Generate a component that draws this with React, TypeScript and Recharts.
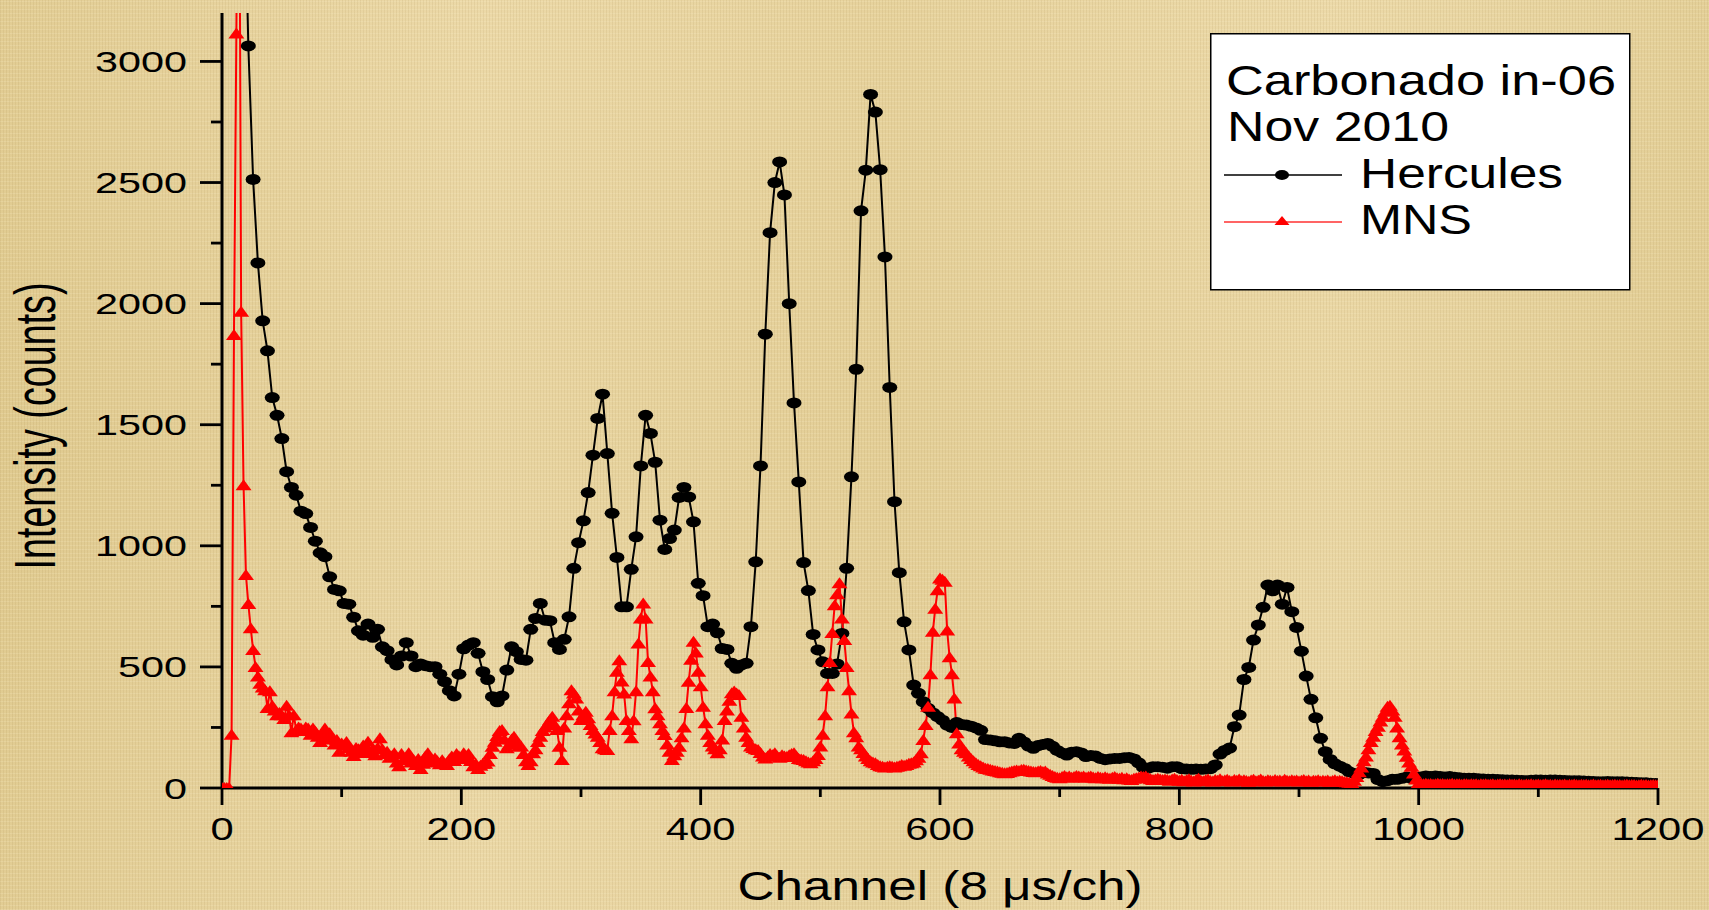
import { LineChart, Line, XAxis, YAxis } from "recharts";

const W = 1709;
const H = 910;
const FONT = '"Liberation Sans", Arial, Helvetica, sans-serif';

// Hercules spectrum: one point every 4 channels, first point at channel 14
const herculesStart = 14;
const herculesStep = 4;
const herculesCounts = [
  5500, 3950, 3064, 2513, 2168, 1929, 1805, 1612, 1539, 1443,
  1306, 1241, 1209, 1143, 1133, 1076, 1019, 971, 955, 872,
  820, 814, 762, 759, 705, 649, 631, 677, 622, 655,
  583, 567, 530, 508, 545, 600, 545, 501, 512, 505,
  501, 501, 470, 439, 402, 380, 470, 575, 590, 600,
  556, 480, 448, 377, 356, 380, 487, 583, 563, 531,
  528, 655, 700, 762, 693, 691, 600, 572, 614, 707,
  907, 1013, 1103, 1220, 1374, 1526, 1626, 1381, 1134, 952,
  748, 748, 903, 1037, 1330, 1539, 1464, 1345, 1106, 985,
  1030, 1065, 1200, 1241, 1202, 1099, 845, 794, 666, 677,
  641, 576, 572, 515, 494, 508, 515, 666, 934, 1330,
  1874, 2293, 2500, 2585, 2449, 2000, 1590, 1264, 931, 815,
  634, 570, 521, 473, 473, 512, 638, 907, 1285, 1729,
  2383, 2551, 2864, 2791, 2553, 2193, 1654, 1182, 889, 686,
  570, 425, 391, 356, 329, 310, 295, 280, 260, 250,
  270, 262, 260, 255, 248, 238, 200, 198, 195, 191,
  191, 186, 184, 205, 190, 173, 164, 175, 180, 184,
  172, 155, 145, 136, 148, 150, 145, 130, 134, 132,
  122, 117, 120, 122, 122, 125, 126, 120, 104, 85,
  82, 88, 88, 86, 82, 88, 88, 80, 78, 77,
  78, 77, 78, 80, 95, 140, 155, 165, 253, 301,
  448, 498, 611, 673, 746, 838, 814, 838, 759, 828,
  728, 663, 565, 462, 366, 290, 205, 150, 118, 100,
  90, 81, 67, 60, 55, 65, 62, 60, 35, 26,
  30, 36, 36, 40, 45, 40, 42, 45, 50, 48,
  50, 47, 45, 47, 44, 42, 40, 40, 40, 38,
  37, 36, 36, 35, 34, 33, 33, 32, 31, 30,
  32, 33, 33, 32, 33, 33, 32, 31, 30, 30,
  30, 29, 28, 27, 26, 26, 27, 26, 26, 26,
  25, 24, 23, 22, 22, 20, 19,
];

// MNS spectrum: one point every 2 channels, first point at channel 0
const mnsStart = 0;
const mnsStep = 2;
const mnsCounts = [
  0, 0, 0, 0, 220, 1870, 3115, 4500, 1966, 1250,
  880, 760, 660, 570, 500, 460, 430, 415, 404, 330,
  400, 340, 320, 300, 310, 300, 285, 340, 300, 230,
  300, 240, 250, 246, 235, 250, 246, 220, 246, 232,
  212, 190, 225, 246, 205, 226, 200, 180, 198, 150,
  184, 175, 190, 165, 150, 132, 165, 160, 145, 175,
  155, 191, 145, 160, 135, 165, 205, 160, 140, 150,
  125, 130, 143, 105, 90, 140, 115, 125, 143, 105,
  115, 95, 120, 78, 100, 130, 143, 115, 105, 122,
  110, 98, 115, 100, 95, 118, 130, 112, 140, 130,
  120, 143, 130, 140, 112, 90, 100, 78, 92, 100,
  100, 109, 140, 170, 191, 215, 235, 239, 200, 164,
  180, 200, 212, 190, 171, 171, 140, 110, 95, 110,
  143, 160, 190, 212, 235, 250, 260, 280, 294, 260,
  239, 170, 116, 250, 300, 350, 404, 390, 370, 320,
  281, 300, 315, 288, 260, 239, 225, 212, 190, 164,
  160, 157, 240, 300, 400, 480, 528, 440, 390, 281,
  240, 205, 280, 400, 597, 700, 762, 700, 520, 460,
  400, 329, 300, 267, 240, 219, 180, 150, 116, 135,
  150, 170, 210, 250, 330, 439, 530, 604, 560, 480,
  420, 336, 267, 220, 190, 171, 160, 143, 160, 200,
  281, 320, 360, 391, 398, 390, 384, 294, 250, 212,
  190, 171, 165, 160, 157, 145, 130, 122, 130, 140,
  135, 143, 130, 125, 135, 130, 128, 135, 140, 143,
  130, 120, 118, 116, 110, 105, 102, 110, 120, 136,
  171, 220, 300, 420, 520, 640, 755, 800, 845, 700,
  611, 500, 404, 308, 230, 210, 171, 160, 145, 130,
  120, 110, 105, 102, 95, 90, 88, 85, 88, 90,
  88, 85, 88, 90, 95, 92, 95, 100, 102, 105,
  115, 125, 143, 198, 260, 336, 470, 645, 740, 817,
  865, 860, 852, 650, 540, 470, 370, 226, 184, 160,
  150, 143, 130, 120, 110, 102, 95, 90, 85, 80,
  78, 75, 72, 70, 68, 65, 63, 61, 62, 65,
  68, 70, 72, 70, 74, 75, 72, 70, 68, 66,
  65, 68, 70, 66, 68, 60, 55, 50, 45, 42,
  40, 45, 50, 44, 48, 42, 45, 50, 47, 44,
  47, 42, 45, 48, 43, 40, 45, 42, 40, 44,
  40, 38, 42, 45, 40, 38, 42, 36, 40, 35,
  33, 38, 40, 42, 47, 45, 47, 40, 36, 33,
  35, 38, 35, 33, 35, 33, 30, 35, 38, 33,
  30, 34, 28, 32, 36, 30, 27, 33, 38, 30,
  28, 32, 35, 29, 27, 33, 30, 36, 28, 31,
  34, 29, 27, 33, 30, 35, 28, 32, 29, 26,
  31, 34, 28, 30, 35, 29, 27, 32, 30, 28,
  33, 29, 31, 27, 34, 30, 28, 32, 29, 31,
  27, 30, 33, 28, 31, 26, 30, 29, 32, 27,
  30, 28, 31, 26, 29, 32, 27, 30, 28, 25,
  24, 22, 20, 30, 45, 65, 85, 110, 130, 160,
  190, 212, 235, 253, 275, 294, 315, 335, 340, 320,
  294, 250, 210, 180, 155, 129, 105, 88, 60, 35,
  20, 18, 16, 18, 15, 17, 14, 16, 18, 15,
  17, 14, 16, 15, 18, 14, 16, 15, 13, 16,
  15, 13, 16, 14, 15, 12, 15, 14, 16, 13,
  14, 15, 12, 14, 16, 13, 14, 12, 15, 13,
  14, 12, 15, 13, 12, 14, 13, 15, 12, 13,
  14, 12, 13, 15, 12, 13, 11, 14, 12, 13,
  12, 14, 11, 13, 12, 14, 12, 11, 13, 12,
  13, 11, 12, 14, 11, 12, 13, 11, 12, 13,
  11, 12, 13, 11, 12, 10, 12, 13, 11, 12,
  12, 10, 11, 13, 11, 12, 10, 11, 12, 11,
  11,
];

const xTicks = [0, 100, 200, 300, 400, 500, 600, 700, 800, 900, 1000, 1100, 1200];
const xLabelled = [0, 200, 400, 600, 800, 1000, 1200];
const yTicks = [0, 250, 500, 750, 1000, 1250, 1500, 1750, 2000, 2250, 2500, 2750, 3000];
const yLabelled = [0, 500, 1000, 1500, 2000, 2500, 3000];

const herculesData = herculesCounts.map((count, i) => ({
  ch: herculesStart + i * herculesStep,
  count,
}));
const mnsData = mnsCounts.map((count, i) => ({
  ch: mnsStart + i * mnsStep,
  count,
}));

const paper = {
  backgroundColor: "#e8d4a1",
  backgroundImage: [
    "repeating-linear-gradient(90deg, rgba(150,120,60,0.10) 0px, rgba(150,120,60,0.10) 1px, transparent 1px, transparent 3px)",
    "repeating-linear-gradient(0deg, rgba(255,246,215,0.16) 0px, rgba(255,246,215,0.16) 1px, transparent 1px, transparent 4px)",
    "linear-gradient(90deg, rgba(212,188,118,0.35) 0%, rgba(242,224,178,0.25) 28%, rgba(222,200,138,0.3) 52%, rgba(244,228,184,0.25) 78%, rgba(214,192,124,0.3) 100%)",
    "linear-gradient(0deg, rgba(236,218,170,0.3) 0%, rgba(220,198,136,0.2) 50%, rgba(238,220,172,0.3) 100%)",
  ].join(","),
};

const EllipseDot = (props: any) => {
  const { cx, cy, index } = props;
  if (cx == null || cy == null) return <g key={`h-${index}`} />;
  return <ellipse key={`h-${index}`} cx={cx} cy={cy} rx={7.5} ry={5.5} fill="#000" />;
};

const TriangleDot = (props: any) => {
  const { cx, cy, index } = props;
  if (cx == null || cy == null) return <g key={`m-${index}`} />;
  return (
    <path
      key={`m-${index}`}
      d={`M${cx},${cy - 6}L${cx + 8},${cy + 5}L${cx - 8},${cy + 5}Z`}
      fill="#ff0000"
    />
  );
};

const XTick = (props: any) => {
  const { x, y, payload } = props;
  const v = payload.value;
  const major = xLabelled.includes(v);
  const label = String(v);
  return (
    <g>
      <line x1={x} y1={y} x2={x} y2={y + (major ? 17 : 9)} stroke="#000" strokeWidth={2.8} />
      {major && (
        <text
          x={x}
          y={y + 52}
          textAnchor="middle"
          fontFamily={FONT}
          fontSize={32}
          textLength={label.length * 23.2}
          lengthAdjust="spacingAndGlyphs"
          fill="#000"
        >
          {label}
        </text>
      )}
    </g>
  );
};

const YTick = (props: any) => {
  const { x, y, payload } = props;
  const v = payload.value;
  const major = yLabelled.includes(v);
  const label = String(v);
  return (
    <g>
      <line x1={x - (major ? 22 : 11)} y1={y} x2={x} y2={y} stroke="#000" strokeWidth={2.8} />
      {major && (
        <text
          x={x - 35}
          y={y + 10.5}
          textAnchor="end"
          fontFamily={FONT}
          fontSize={30}
          textLength={label.length * 23}
          lengthAdjust="spacingAndGlyphs"
          fill="#000"
        >
          {label}
        </text>
      )}
    </g>
  );
};

const XTitle = () => (
  <text
    x={940}
    y={900}
    textAnchor="middle"
    fontFamily={FONT}
    fontSize={41}
    textLength={405}
    lengthAdjust="spacingAndGlyphs"
    fill="#000"
  >
    Channel (8 μs/ch)
  </text>
);

const YTitle = () => (
  <text
    x={55}
    y={426}
    transform="rotate(-90, 55, 426)"
    textAnchor="middle"
    fontFamily={FONT}
    fontSize={57}
    textLength={287}
    lengthAdjust="spacingAndGlyphs"
    fill="#000"
  >
    Intensity (counts)
  </text>
);

function LegendBox() {
  const txt = {
    fontFamily: FONT,
    fontSize: 42,
    fill: "#000",
    lengthAdjust: "spacingAndGlyphs" as const,
  };
  return (
    <svg
      width={421}
      height={258}
      style={{ position: "absolute", left: 1210, top: 33 }}
    >
      <rect x={0.75} y={0.75} width={419} height={256} fill="#fff" stroke="#000" strokeWidth={1.5} />
      <text x={16} y={62} textLength={390} {...txt}>Carbonado in-06</text>
      <text x={17} y={108} textLength={222} {...txt}>Nov 2010</text>
      <line x1={14} y1={142} x2={132} y2={142} stroke="#000" strokeWidth={1.5} />
      <ellipse cx={72} cy={142} rx={7} ry={5} fill="#000" />
      <text x={150} y={155} textLength={203} {...txt}>Hercules</text>
      <line x1={14} y1={189} x2={132} y2={189} stroke="#ff3030" strokeWidth={1.5} />
      <path d="M72,183L79.5,192L64.5,192Z" fill="#ff0000" />
      <text x={150} y={201} textLength={112} {...txt}>MNS</text>
    </svg>
  );
}

export default function App() {
  return (
    <div
      style={{
        position: "absolute",
        left: 0,
        top: 0,
        width: W,
        height: H,
        overflow: "hidden",
        ...paper,
      }}
    >
      <LineChart width={W} height={H} margin={{ top: 13, right: 51, bottom: 0, left: 0 }}>
        <XAxis
          type="number"
          dataKey="ch"
          domain={[0, 1200]}
          ticks={xTicks}
          interval={0}
          height={122}
          tickSize={0}
          tickMargin={0}
          tickLine={false}
          tick={<XTick />}
          axisLine={{ stroke: "#000", strokeWidth: 3 }}
          allowDataOverflow
          label={{ content: XTitle }}
        />
        <YAxis
          type="number"
          domain={[0, 3200]}
          ticks={yTicks}
          interval={0}
          width={222}
          tickSize={0}
          tickMargin={0}
          tickLine={false}
          tick={<YTick />}
          axisLine={{ stroke: "#000", strokeWidth: 3 }}
          allowDataOverflow
          label={{ content: YTitle }}
        />
        <Line
          data={herculesData}
          dataKey="count"
          type="linear"
          stroke="#000"
          strokeWidth={2}
          dot={EllipseDot}
          activeDot={false}
          isAnimationActive={false}
        />
        <Line
          data={mnsData}
          dataKey="count"
          type="linear"
          stroke="#ff0000"
          strokeWidth={2}
          dot={TriangleDot}
          activeDot={false}
          isAnimationActive={false}
        />
      </LineChart>
      <LegendBox />
    </div>
  );
}
